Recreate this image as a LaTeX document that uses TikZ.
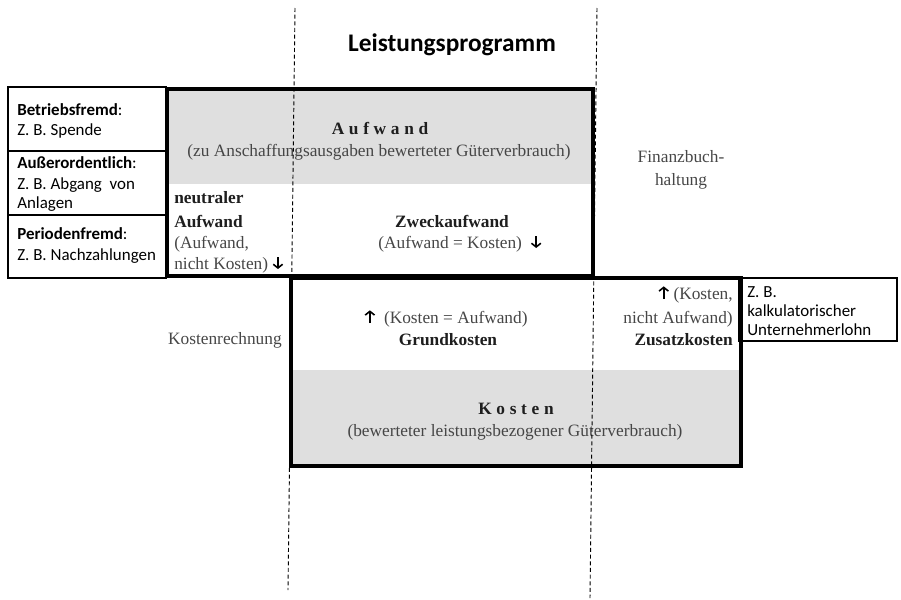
\documentclass[tikz,border=0pt]{standalone}
\usepackage{fontspec}
\usetikzlibrary{arrows.meta}
\setmainfont{Liberation Serif}
\newfontfamily\calfont{Carlito}
\definecolor{txtgray}{HTML}{464646}
\definecolor{boldgray}{HTML}{1E1E1E}
\definecolor{boxgray}{HTML}{DFDFDF}
\tikzset{glypharr/.style={draw=black, line width=1.2pt, -{Straight Barb[length=2.8pt,width=7pt,line width=1.2pt]}}}
\newcommand{\dnarr}{\tikz[baseline=0pt]{\path[glypharr] (0pt,9pt) -- (0pt,0pt);}}
\newcommand{\uparr}{\tikz[baseline=0pt]{\path[glypharr] (0pt,0pt) -- (0pt,9.5pt);}}
\newcommand{\lsp}{\hspace{0.27em}}
\begin{document}
\begin{tikzpicture}[x=0.75pt,y=-0.75pt,
  serif/.style={inner sep=0pt, anchor=base, font=\fontsize{13}{15}\selectfont, text=txtgray},
  serifb/.style={serif, font=\fontsize{13}{15}\selectfont\bfseries, text=boldgray},
  side/.style={inner sep=0pt, anchor=base west, font=\calfont\fontsize{12.7}{14}\selectfont, text=black},
  thinbox/.style={draw=black, line width=0.9pt},
  thickbox/.style={draw=black, line width=3pt},
  guide/.style={draw=black, line width=0.7pt, dash pattern=on 3pt off 2pt}]
\useasboundingbox (0,0) rectangle (901,600);
% gray fills
\fill[boxgray] (167,89) rectangle (593,184);
\fill[boxgray] (291,370) rectangle (741,466);
% main boxes
\draw[thickbox] (167,89) rectangle (593,276);
\draw[thickbox] (291,278) rectangle (741,466);
% left boxes
\draw[thinbox] (8,87) rectangle (166,151);
\draw[thinbox] (8,151) rectangle (166,215);
\draw[thinbox] (8,215) rectangle (166,278);
% right box
\draw[thinbox] (739,278) rectangle (897,341);
% title
\node[inner sep=0pt, anchor=base, font=\calfont\bfseries\fontsize{19}{22}\selectfont] (title) at (452,51) {Leistungsprogramm};
% left box texts
\node[side] (b1) at (17,115) {\textbf{Betriebsfremd}:};
\node[side] (b2) at (17,135) {Z. B. Spende};
\node[side] (a1) at (17,168) {\textbf{Außerordentlich}:};
\node[side] (a2) at (17,189) {Z. B. Abgang\ \ von};
\node[side] (a3) at (17,208) {Anlagen};
\node[side] (p1) at (17,239) {\textbf{Periodenfremd}:};
\node[side] (p2) at (17,260) {Z. B. Nachzahlungen};
% right box text
\node[side] (r1) at (747,297) {Z. B.};
\node[side] (r2) at (747,316) {kalkulatorischer};
\node[side] (r3) at (747,335) {Unternehmerlohn};
% Aufwand box
\node[serifb] (aufw) at (380,134) {A\lsp u\lsp f\lsp w\lsp a\lsp n\lsp d};
\node[serif] (aufwdef) at (379,156) {(zu Anschaffungsausgaben bewerteter Güterverbrauch)};
\node[serifb, anchor=base west] (n1) at (174,203) {neutraler};
\node[serifb, anchor=base west] (n2) at (174,227) {Aufwand};
\node[serif, anchor=base west] (n3) at (174,248) {(Aufwand,};
\node[serif, anchor=base west] (n4) at (174,269) {nicht Kosten) \dnarr};
\node[serifb] (zweck) at (452,227) {Zweckaufwand};
\node[serif] (zweckdef) at (460,248) {(Aufwand = Kosten)\ \ \dnarr};
% side labels
\node[serif] (fibu1) at (681,162) {Finanzbuch-};
\node[serif] (fibu2) at (681,185) {haltung};
\node[serif, anchor=base east] (kore) at (282,344) {Kostenrechnung};
% Kosten box
\node[serif] (grunddef) at (446,323) {\uparr\ \ (Kosten = Aufwand)};
\node[serifb] (grund) at (448,345) {Grundkosten};
\node[serif, anchor=base east] (z1) at (733,299) {\uparr\ (Kosten,};
\node[serif, anchor=base east] (z2) at (733,323) {nicht Aufwand)};
\node[serifb, anchor=base east] (z3) at (733,345) {Zusatzkosten};
\node[serifb] (kost) at (516,414) {K\lsp o\lsp s\lsp t\lsp e\lsp n};
\node[serif] (kostdef) at (515,436) {(bewerteter leistungsbezogener Güterverbrauch)};
% dashed guide lines
\coordinate (g1t) at (295,8);
\coordinate (g1b) at (288,590);
\coordinate (g2t) at (597,8);
\coordinate (g2b) at (590,598);
\draw[guide] (g1t) -- (g1b);
\draw[guide] (g2t) -- (g2b);
\end{tikzpicture}
\end{document}
